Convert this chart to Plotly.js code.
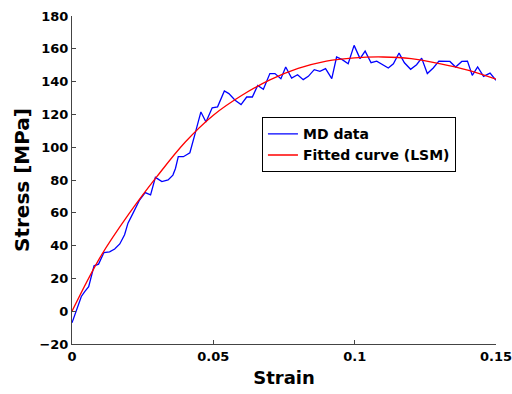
<!DOCTYPE html>
<html>
<head>
<meta charset="utf-8">
<script src="https://cdn.plot.ly/plotly-3.0.1.min.js"></script>
<style>html,body{margin:0;padding:0;background:#fff;}#chart{width:512px;height:394px;}</style>
</head>
<body>
<div id="chart"></div>
<script>
// MD data (blue)
const mdStrain = [0, 0.0015, 0.0033, 0.0045, 0.0059, 0.0078, 0.0094, 0.0113, 0.0133, 0.0151, 0.0169, 0.0186, 0.0198, 0.0216, 0.0239, 0.0259, 0.0278, 0.0295, 0.0318, 0.034, 0.0357, 0.0366, 0.0376, 0.0394, 0.0417, 0.0435, 0.0456, 0.0474, 0.0496, 0.0515, 0.0539, 0.0555, 0.0577, 0.0598, 0.0618, 0.0638, 0.0657, 0.0677, 0.07, 0.0718, 0.0739, 0.0756, 0.0777, 0.0798, 0.0818, 0.0836, 0.0857, 0.0877, 0.0897, 0.0919, 0.0936, 0.0956, 0.0977, 0.0998, 0.1019, 0.1037, 0.1058, 0.1078, 0.1098, 0.1119, 0.1137, 0.1157, 0.1176, 0.1198, 0.1219, 0.1237, 0.1257, 0.1278, 0.1298, 0.132, 0.1337, 0.1357, 0.1379, 0.1399, 0.1416, 0.1435, 0.1456, 0.1479, 0.15];
const mdStress = [-7.1, 0, 9, 12, 15, 27.7, 28.7, 35.8, 36.2, 37.9, 41, 46.6, 53.7, 59.8, 67.8, 72.3, 70.9, 81.6, 79, 80, 83, 87, 94.2, 94.2, 96.6, 108, 121.5, 115.4, 124, 124.6, 134.3, 132.7, 128.6, 126, 130.6, 130.6, 137.7, 135.3, 144.9, 144.9, 141.8, 148.9, 142.2, 144.2, 141.2, 143.2, 147.3, 146.3, 147.9, 141.8, 155, 153.4, 150.9, 162.1, 154, 158.6, 151.5, 152.5, 150.3, 148.3, 150.9, 157.4, 151.5, 147.5, 150.3, 154.3, 144.9, 148.3, 152.5, 152.3, 152.3, 148.9, 152.3, 152.5, 143.8, 148.9, 143.2, 145.2, 140.8];
// Fitted curve (red)
const fitStrain = [0, 0.01, 0.02, 0.03, 0.04, 0.05, 0.06, 0.07, 0.08, 0.09, 0.10, 0.11, 0.12, 0.13, 0.14, 0.15];
const fitStress = [0, 33, 59, 82, 103, 119.5, 131.5, 141, 148, 152.5, 154.5, 155, 154, 151, 147, 141.5];
const xTickVals = [0, 0.05, 0.1, 0.15];
const xTickText = ['0', '0.05', '0.1', '0.15'];
const seriesNames = ['MD data', 'Fitted curve (LSM)'];

const FONT = "Tahoma, 'DejaVu Sans', sans-serif";
const traces = [
  {x: mdStrain, y: mdStress, type: 'scatter', mode: 'lines', name: seriesNames[0],
   line: {color: '#0000ff', width: 1.3}},
  {x: fitStrain, y: fitStress, type: 'scatter', mode: 'lines', name: seriesNames[1],
   line: {color: '#ff0000', width: 1.3, shape: 'spline', smoothing: 1}}
];
const axisCommon = {
  showline: true, linecolor: '#444', linewidth: 1,
  ticks: 'inside', ticklen: 4, tickcolor: '#444',
  showgrid: false, zeroline: false, ticklabeloverflow: 'allow',
  tickfont: {family: FONT, size: 13, color: '#000', weight: 'bold'}
};
const layout = {
  width: 512, height: 394,
  margin: {l: 72, r: 16, t: 15.5, b: 49.5},
  paper_bgcolor: '#fff', plot_bgcolor: '#fff',
  showlegend: true,
  legend: {x: 0.448, y: 0.6915, xanchor: 'left', yanchor: 'top',
    bordercolor: '#000', borderwidth: 1, bgcolor: '#fff', tracegroupgap: 0,
    font: {family: FONT, size: 14, color: '#000', weight: 'bold'}},
  xaxis: Object.assign({}, axisCommon, {
    range: [0, 0.1500001], tickvals: xTickVals, ticktext: xTickText,
    title: {text: 'Strain', font: {family: FONT, size: 18, color: '#000', weight: 'bold'}, standoff: 8}
  }),
  yaxis: Object.assign({}, axisCommon, {
    range: [-20, 180], dtick: 20, tick0: 0,
    title: {text: 'Stress [MPa]', font: {family: FONT, size: 20, color: '#000', weight: 'bold'}, standoff: 4}
  })
};
Plotly.newPlot('chart', traces, layout, {displayModeBar: false, staticPlot: true});
</script>
</body>
</html>
